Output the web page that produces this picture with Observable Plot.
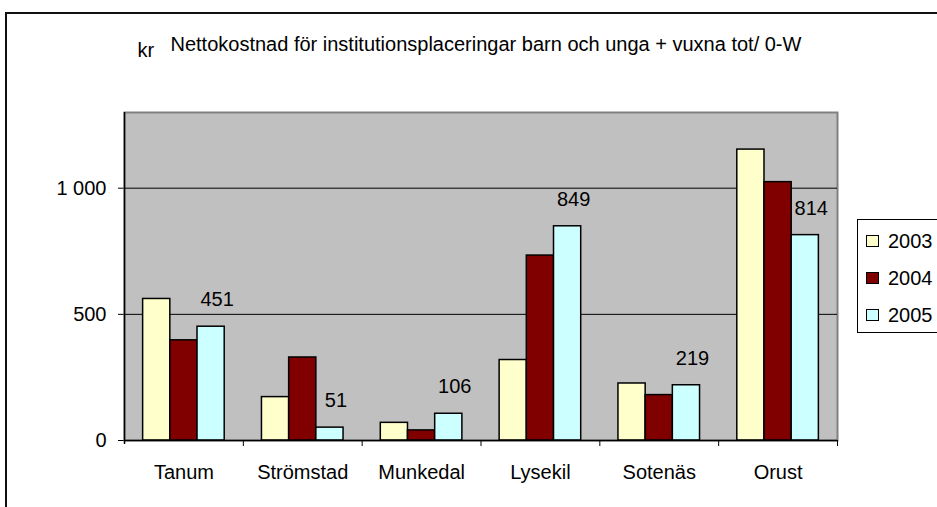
<!DOCTYPE html>
<html>
<head>
<meta charset="utf-8">
<script src="https://cdn.jsdelivr.net/npm/d3@7"></script>
<script src="https://cdn.jsdelivr.net/npm/@observablehq/plot@0.6"></script>
<style>
  html, body { margin: 0; padding: 0; background: #fff; overflow: hidden; width: 937px; height: 507px; }
  #wrap { position: relative; width: 937px; height: 507px; font-family: Arial, "Liberation Sans", sans-serif; }
  #chart { position: absolute; left: 0; top: 0; }
  #border { position: absolute; left: 5px; top: 12px; width: 1000px; height: 600px; border: 2px solid #111; box-sizing: border-box; pointer-events: none; }
  #legend { position: absolute; left: 857px; top: 219px; width: 120px; height: 114px; border: 1px solid #000; background: #fff; box-sizing: border-box; }
  .item { position: absolute; left: 8px; height: 24px; display: flex; align-items: center; font-size: 20px; color: #000; }
  .sw { width: 11px; height: 10px; border: 1px solid #000; margin-right: 9px; }
</style>
</head>
<body>
<div id="wrap">
  <div id="chart"></div>
  <div id="border"></div>
  <div id="legend"></div>
</div>
<script>
const categories = ["Tanum", "Strömstad", "Munkedal", "Lysekil", "Sotenäs", "Orust"];
const years = ["2003", "2004", "2005"];
const v2003 = [561, 172, 70, 319, 226, 1153];
const v2004 = [397, 329, 40, 733, 180, 1024];
const v2005 = [451, 51, 106, 849, 219, 814];
const yTicks = [0, 500, 1000];
const colors = ["#FFFFCC", "#800000", "#CCFFFF"];
const titleText = "Nettokostnad för institutionsplaceringar barn och unga + vuxna tot/ 0-W";
const unitText = "kr";

const series = [v2003, v2004, v2005];
const rows = [];
categories.forEach((c, ci) => {
  years.forEach((yr, yi) => rows.push({cat: c, ci, year: yr, yi, value: series[yi][ci]}));
});
const labelRows = rows.filter(d => d.year === "2005");

// layout within one category unit (Excel style gap width)
const gapRatio = 1.37;
const bw = 1 / (years.length + gapRatio);
const outer = gapRatio * bw / 2;

const font = "Arial, 'Liberation Sans', sans-serif";

const chart = Plot.plot({
  width: 937,
  height: 507,
  marginLeft: 124,
  marginRight: 100,
  marginTop: 112,
  marginBottom: 67,
  style: {fontFamily: font, fontSize: "20px", background: "transparent", color: "#000"},
  x: {
    type: "linear",
    domain: [0, categories.length],
    ticks: categories.map((c, i) => i + 0.5),
    tickFormat: v => categories[Math.floor(v)],
    tickSize: 0,
    tickPadding: 24,
    label: null
  },
  y: {
    domain: [0, 1300],
    ticks: yTicks,
    tickFormat: d => d3.format(",")(d).replace(/,/g, " "),
    tickSize: 6,
    tickPadding: 12,
    label: null
  },
  color: {domain: years, range: colors},
  marks: [
    Plot.frame({fill: "#C0C0C0", stroke: "#808080", strokeWidth: 2}),
    Plot.ruleY(yTicks.filter(t => t > 0), {stroke: "#000", strokeWidth: 1}),
    Plot.rectY(rows, {
      x1: d => d.ci + outer + d.yi * bw,
      x2: d => d.ci + outer + (d.yi + 1) * bw,
      y: "value",
      fill: "year",
      stroke: "#000",
      strokeWidth: 1.5
    }),
    Plot.ruleY([0], {stroke: "#000", strokeWidth: 1.5}),
    Plot.ruleX([0], {stroke: "#000", strokeWidth: 1.5, insetBottom: -4}),
    Plot.ruleX(d3.range(1, categories.length + 1), {y1: 0, y2: 0, insetBottom: -6, stroke: "#000", strokeWidth: 1}),
    Plot.text(labelRows, {
      x: d => d.ci + outer + (d.yi + 0.5) * bw,
      y: "value",
      text: d => String(d.value),
      dx: 6,
      dy: -27,
      lineAnchor: "middle",
      fontSize: 20,
      fill: "#000"
    }),
    Plot.text([titleText], {
      frameAnchor: "top-left",
      text: d => d,
      textAnchor: "start",
      lineAnchor: "bottom",
      dx: 46,
      dy: -62,
      fontSize: 20,
      fill: "#000"
    }),
    Plot.text([unitText], {
      frameAnchor: "top-left",
      text: d => d,
      textAnchor: "start",
      lineAnchor: "bottom",
      dx: 13,
      dy: -56,
      fontSize: 20,
      fill: "#000"
    })
  ]
});
document.getElementById("chart").appendChild(chart);

const legend = document.getElementById("legend");
const rowTops = [9, 46, 83];
years.forEach((yr, i) => {
  const item = document.createElement("div");
  item.className = "item";
  item.style.top = rowTops[i] + "px";
  const sw = document.createElement("div");
  sw.className = "sw";
  sw.style.background = colors[i];
  const t = document.createElement("span");
  t.textContent = yr;
  item.appendChild(sw);
  item.appendChild(t);
  legend.appendChild(item);
});
</script>
</body>
</html>
